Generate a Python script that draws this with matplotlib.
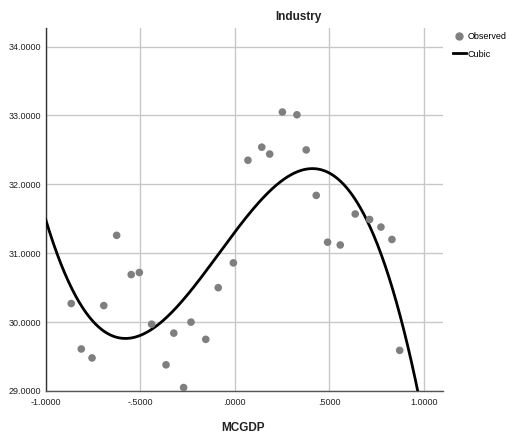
import numpy as np
import matplotlib
matplotlib.use("Agg")
import matplotlib.pyplot as plt
from matplotlib.ticker import FuncFormatter
from matplotlib.lines import Line2D

mcgdp = [-0.865, -0.812, -0.755, -0.693, -0.625, -0.548, -0.505, -0.440, -0.364,
         -0.323, -0.271, -0.232, -0.154, -0.088, -0.008, 0.069, 0.142, 0.184,
         0.251, 0.328, 0.377, 0.430, 0.490, 0.557, 0.636, 0.712, 0.772, 0.830, 0.871]
industry = [30.27, 29.61, 29.48, 30.24, 31.26, 30.69, 30.72, 29.97, 29.38,
            29.84, 29.05, 30.00, 29.75, 30.50, 30.86, 32.35, 32.54, 32.44,
            33.05, 33.01, 32.50, 31.84, 31.16, 31.12, 31.57, 31.49, 31.38, 31.20, 29.59]
x_ticks = [-1.0, -0.5, 0.0, 0.5, 1.0]
y_ticks = [29, 30, 31, 32, 33, 34]

plt.rcParams['font.family'] = ['Liberation Sans', 'DejaVu Sans']

fig = plt.figure(figsize=(5.10, 4.34), dpi=100)
ax = fig.add_axes([45.7/510, 1 - 391/434, (443 - 45.7)/510, (391 - 28)/434])

coef = np.polyfit(mcgdp, industry, 3)
xs = np.linspace(-1.0, 1.0, 400)
ax.plot(xs, np.polyval(coef, xs), color='black', lw=2.0, zorder=3)
ax.scatter(mcgdp, industry, s=30, color='#7f7f7f', edgecolors='none', zorder=4)

ax.set_xlim(-1.0, 1.10)
ax.set_ylim(29.0, 34.27)
ax.set_xticks(x_ticks)
ax.set_yticks(y_ticks)

def fmt(v, pos):
    s = f"{v:.4f}"
    if s.startswith("0."):
        s = s[1:]
    elif s.startswith("-0."):
        s = "-" + s[2:]
    return s

ax.xaxis.set_major_formatter(FuncFormatter(fmt))
ax.yaxis.set_major_formatter(FuncFormatter(fmt))
ax.tick_params(axis='both', length=0, labelsize=6.5, colors='#222222')
ax.tick_params(axis='x', pad=5)
ax.tick_params(axis='y', pad=3)
ax.grid(True, color='#c8c8c8', lw=1.0)
ax.set_axisbelow(True)
for s in ['top', 'right']:
    ax.spines[s].set_visible(False)
ax.spines['left'].set_color('#333333')
ax.spines['bottom'].set_color('#555555')
ax.spines['left'].set_linewidth(1.0)
ax.spines['bottom'].set_linewidth(1.0)

fig.text(298/510, 1 - 17/434, "Industry", ha='center', va='center', fontsize=8.5, fontweight='bold', color='#222222')
fig.text(243/510, 1 - 428/434, "MCGDP", ha='center', va='center', fontsize=8.5, fontweight='bold', color='#222222')

handles = [Line2D([], [], marker='o', ls='none', color='#7f7f7f', markersize=5),
           Line2D([], [], color='black', lw=2)]
fig.legend(handles, ['Observed', 'Cubic'], loc='upper left', bbox_to_anchor=(453/510, 1 - 32/434),
           frameon=False, handlelength=1.4, handletextpad=0.25, labelspacing=0.95,
           borderaxespad=0, borderpad=0, prop={'size': 6.5})

fig.savefig("out.png", dpi=100)
